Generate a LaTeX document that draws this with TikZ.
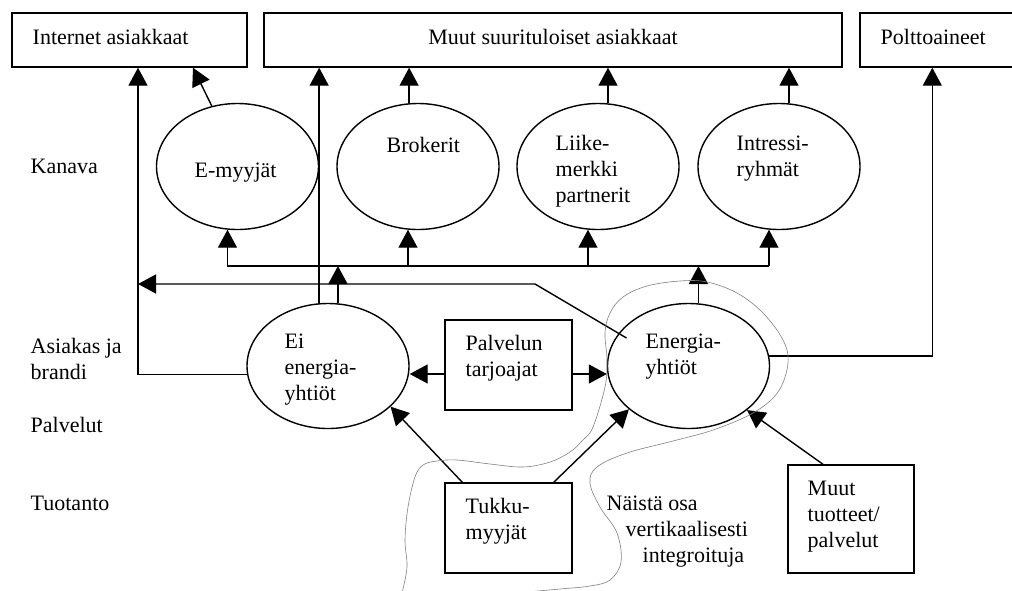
\documentclass[tikz,border=0pt]{standalone}
\usepackage{fontspec}
\setmainfont{Liberation Serif}
\usetikzlibrary{shapes.geometric, arrows.meta, positioning}

\begin{document}
\begin{tikzpicture}[x=1pt, y=-1pt, line width=1.4pt,
  every node/.style={font=\fontsize{22}{26}\selectfont},
  box/.style={draw, rectangle, inner sep=0pt},
  oval/.style={draw, ellipse, inner sep=0pt, minimum width=162pt, minimum height=126pt},
  txt/.style={anchor=base west, inner sep=0pt, align=left},
  arr/.style={-{Triangle[length=18pt,width=19pt]}},
  wavy/.style={line width=0.6pt, gray}]
\useasboundingbox (0,0) rectangle (1012,590);
\clip (0,0) rectangle (1012,590);

% asiakkaat
\node[box, minimum width=235pt, minimum height=54pt] (inet) at (129.5,40) {};
\node[box, minimum width=578pt, minimum height=54pt] (muut) at (553,40) {};
\node[box, minimum width=170pt, minimum height=54pt] (polt) at (945,40) {};
\node[txt] (inet-t) at (32,44) {Internet asiakkaat};
\node[txt, anchor=base] (muut-t) at (553,44) {Muut suurituloiset asiakkaat};
\node[txt] (polt-t) at (880,44) {Polttoaineet};

% kanavat (base = last line)
\node[oval] (emyy) at (237.5,166.5) {};
\node[oval] (brok) at (418,166.5) {};
\node[oval] (liik) at (598,166.5) {};
\node[oval] (intr) at (779,166.5) {};
\node[txt] (emyy-t) at (194,177) {E-myyjät};
\node[txt] (brok-t) at (386,152) {Brokerit};
\node[txt] (liik-t) at (555,202) {Liike-\\merkki\\partnerit};
\node[txt] (intr-t) at (736,176) {Intressi-\\ryhmät};

% yhtiot
\node[oval, minimum height=125pt] (eiyh) at (328,366) {};
\node[oval, minimum height=125pt] (ener) at (688.5,366) {};
\node[box, minimum width=127pt, minimum height=90pt] (palv) at (508.5,365) {};
\node[box, minimum width=127pt, minimum height=90pt] (tukk) at (508.5,528) {};
\node[box, minimum width=126pt, minimum height=108pt] (mtuo) at (851,519) {};
\node[txt] (eiyh-t) at (284,400) {Ei\\energia-\\yhtiöt};
\node[txt] (ener-t) at (645,374) {Energia-\\yhtiöt};
\node[txt] (palv-t) at (465,376) {Palvelun\\tarjoajat};
\node[txt] (tukk-t) at (465,539) {Tukku-\\myyjät};
\node[txt] (mtuo-t) at (807,547) {Muut\\tuotteet/\\palvelut};
\node[txt] (nais-t) at (606,562) {Näistä osa\\\hspace*{19pt}vertikaalisesti\\\hspace*{36pt}integroituja};

% tasot
\node[txt] (kana) at (30,173) {Kanava};
\node[txt] (asia) at (30,379) {Asiakas ja\\brandi};
\node[txt] (palu) at (30,432) {Palvelut};
\node[txt] (tuot) at (30,510) {Tuotanto};

% vaylat
\coordinate (bus) at (0,266);
\coordinate (kink) at (535,284);
\draw (emyy.261.5 |- bus) -- (intr.261.5 |- bus);
\foreach \n in {emyy, brok, liik, intr}
  \draw[arr] (\n.261.5 |- bus) -- (\n.261.5);
\draw[arr] (emyy.113) -- ([xshift=63.5pt]inet.south);
\draw[arr] (brok.98.5) -- (brok.98.5 |- muut.south);
\draw[arr] (liik.81.5) -- (liik.81.5 |- muut.south);
\draw[arr] (intr.81.5) -- (intr.81.5 |- muut.south);
\draw[arr] (eiyh.98.5) -- (eiyh.98.5 |- muut.south);
\draw[arr] (eiyh.81.5) -- (eiyh.81.5 |- bus);
\draw[arr] (ener.81.5) -- (ener.81.5 |- bus);
\draw[arr] (eiyh.186) -| ([xshift=8.5pt]inet.south);
\draw[arr] ([shift={(-62,-28)}]ener.center) -- (kink) -- ([xshift=8.5pt]inet.south |- kink);
\draw[arr] (ener.7) -| ([xshift=73pt]polt.south west);
\draw[arr] ([yshift=-9pt]palv.west) -- ([yshift=-9pt]palv.west -| eiyh.east);
\draw[arr] ([yshift=-9pt]palv.east) -- ([yshift=-9pt]palv.east -| ener.west);
\draw[arr] ([xshift=18pt]tukk.north west) -- (eiyh.-33);
\draw[arr] ([xshift=-19pt]tukk.north east) -- (ener.216);
\draw[arr] ([xshift=-28pt]mtuo.north) -- (ener.-37);

% vertikaalisesti integroidut
\draw[wavy] plot[smooth, tension=0.6] coordinates {(515,593) (560,589) (590,586) (610,580)
  (621,562) (617,533) (600,507) (590,483) (597,467) (627,453) (673,441) (713,430)
  (753,413) (778,392) (788,363) (783,340) (763,313) (737,293) (707,282) (680,281)
  (647,286) (623,297) (610,313) (605,333) (607,360) (605,387) (593,427) (583,440)
  (570,452) (550,462) (523,467) (490,464) (457,460) (437,461) (423,465) (415,477)
  (408,507) (405,540) (407,567) (402,593)};
\end{tikzpicture}
\end{document}
